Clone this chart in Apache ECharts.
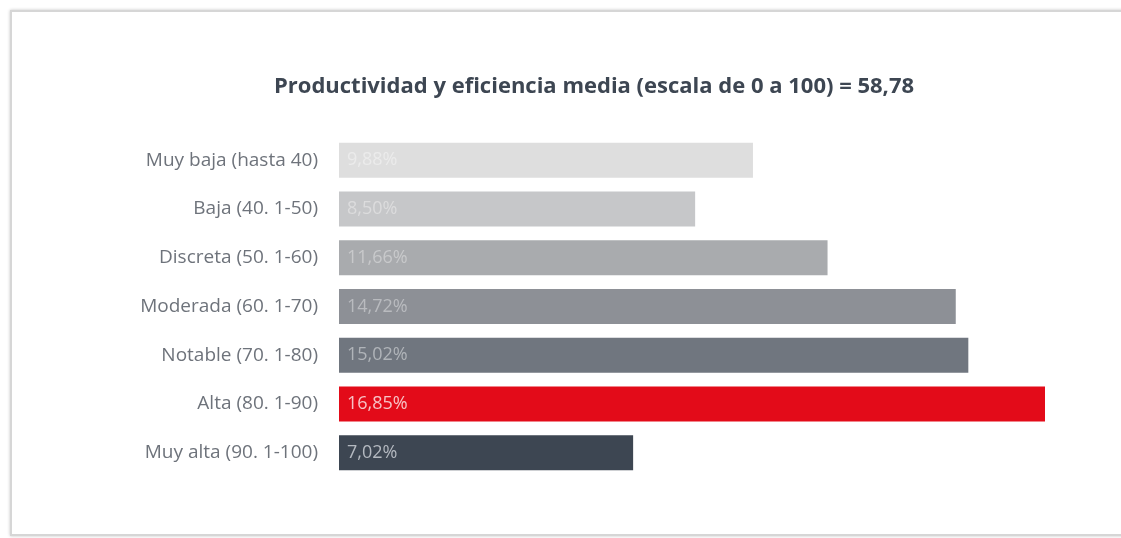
<!DOCTYPE html>
<html>
<head>
<meta charset="utf-8">
<script src="https://cdn.jsdelivr.net/npm/echarts@6/dist/echarts.min.js"></script>
<style>
    html, body { margin: 0; padding: 0; background: #fff; overflow: hidden; width: 1121px; height: 538px; }
    #frame {
        position: absolute; left: 10px; top: 10px; width: 1140px; height: 522px;
        border: 2px solid #d6d6d6; box-shadow: 0 0 3px #c4c4c4; background: #fff;
    }
    #container { position: absolute; left: 0; top: 0; width: 1121px; height: 538px; }
</style>
</head>
<body>
<div id="frame"></div>
<div id="container"></div>
<script>
    // categorias y valores (%)
    var categories = ['Muy baja (hasta 40)', 'Baja (40. 1-50)', 'Discreta (50. 1-60)', 'Moderada (60. 1-70)',
        'Notable (70. 1-80)', 'Alta (80. 1-90)', 'Muy alta (90. 1-100)'];
    var values = [9.88, 8.50, 11.66, 14.72, 15.02, 16.85, 7.02];
    var barColors = ['#dedede', '#c6c7c9', '#a9abae', '#8d9096', '#70767f', '#e30b19', '#3d4652'];
    var labelColors = ['#ebebeb', '#dcdcdd', '#c8c9cb', '#b9bbbf', '#b0b4b9', '#f7c2c5', '#b4b9c0'];

    var myChart = echarts.init(document.getElementById('container'));

    var option = {
        animation: false,
        title: {
            text: 'Productividad y eficiencia media (escala de 0 a 100) = 58,78',
            left: 589,
            top: 71,
            textAlign: 'center',
            textStyle: { fontFamily: 'Open Sans', fontWeight: 'bold', fontSize: 22, color: '#3d4652' }
        },
        grid: { left: 339, top: 136, width: 706, height: 341, containLabel: false },
        xAxis: {
            type: 'value', min: 0, max: 16.85, show: false
        },
        yAxis: {
            type: 'category',
            inverse: true,
            data: categories,
            axisLine: { show: false },
            axisTick: { show: false },
            axisLabel: { margin: 21, fontFamily: 'Open Sans', fontSize: 19, color: '#6e737b' }
        },
        series: [{
            type: 'bar',
            barWidth: 35,
            data: values.map(function (v, i) {
                return {
                    value: v,
                    itemStyle: { color: barColors[i] },
                    label: { color: labelColors[i] }
                };
            }),
            label: {
                show: true,
                position: 'insideLeft',
                offset: [3, 0],
                fontFamily: 'Open Sans',
                fontSize: 18,
                formatter: function (p) { return p.value.toFixed(2).replace('.', ',') + '%'; }
            }
        }]
    };

    myChart.setOption(option);
</script>
</body>
</html>
